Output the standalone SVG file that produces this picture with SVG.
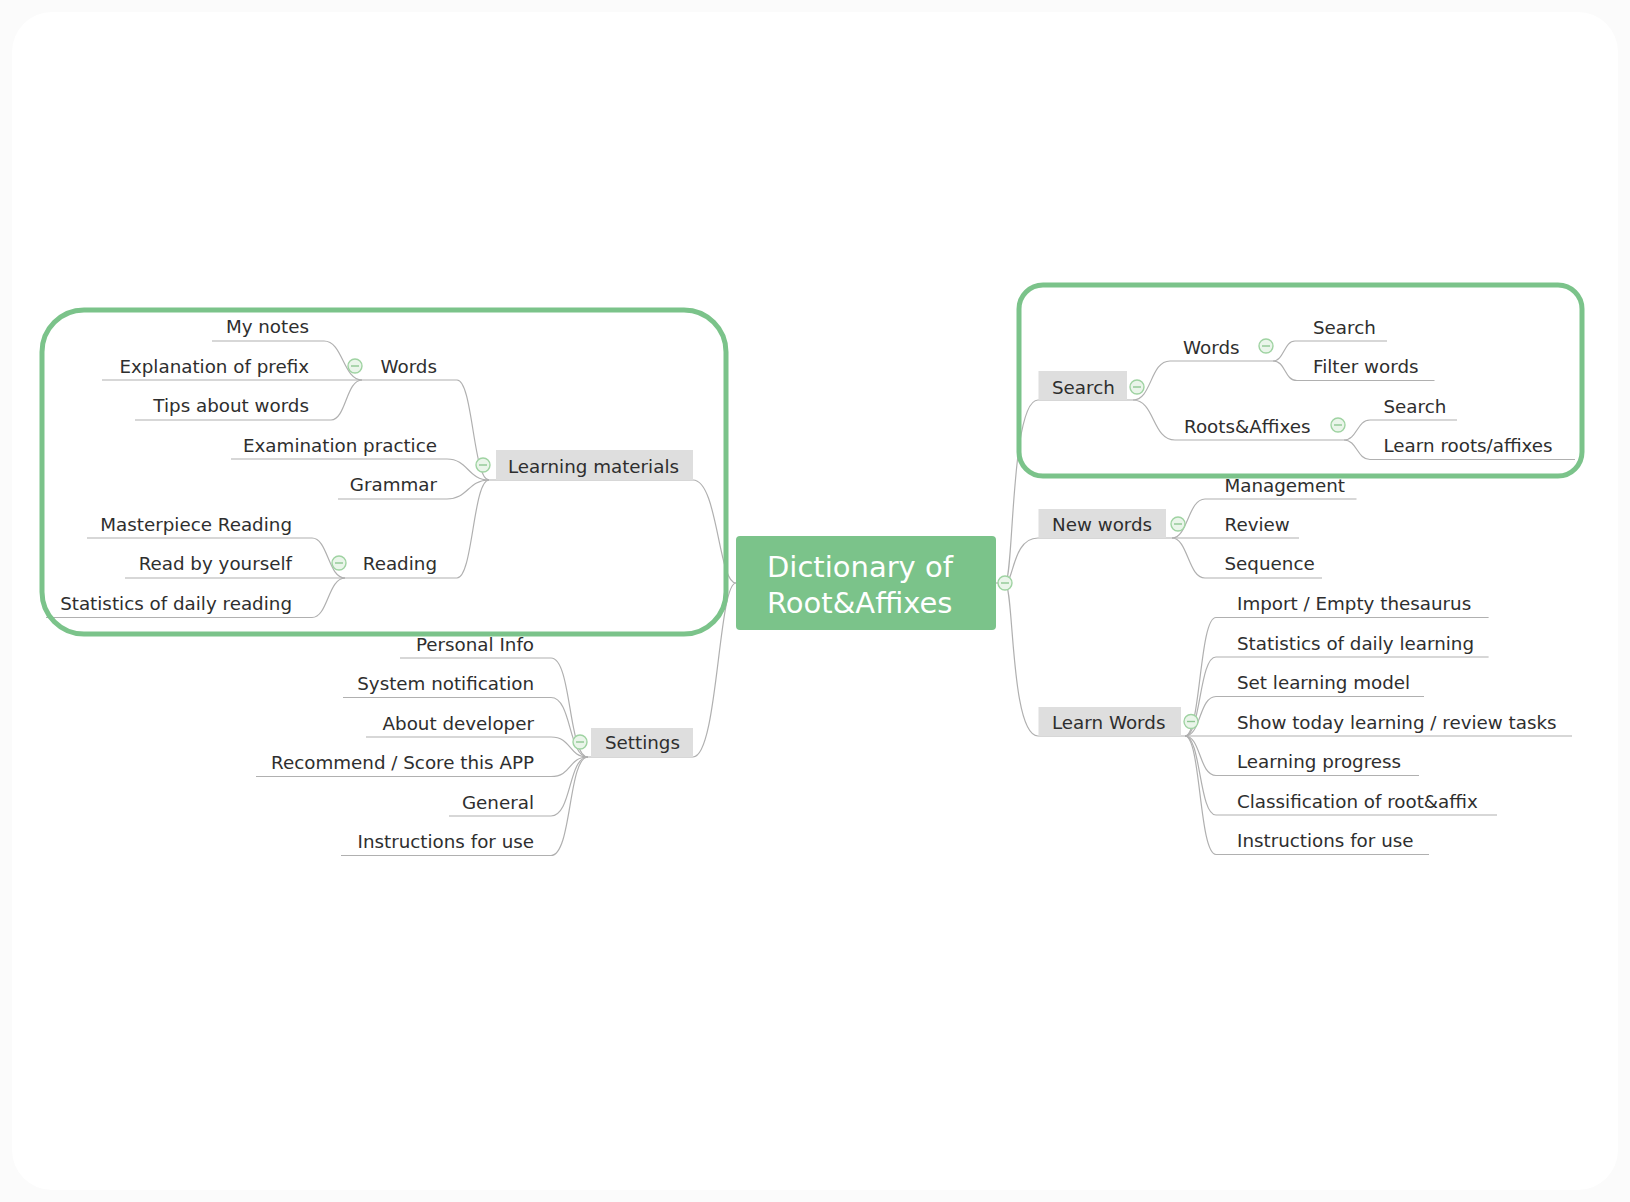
<svg xmlns="http://www.w3.org/2000/svg" width="1630" height="1202" viewBox="0 0 1630 1202">
<style>
.t{font-family:"DejaVu Sans","Liberation Sans",sans-serif;font-size:18.3px;fill:#2e2e2e}
.r{text-anchor:end}
.box{fill:#dedede}
.ln{fill:none;stroke:#b0b0b0;stroke-width:1.2}
.fr{fill:none;stroke:#7bc38a;stroke-width:5}
.cc{fill:#eaf5ea;stroke:#9fd3a2;stroke-width:1.4}
.cm{stroke:#8fc793;stroke-width:1.4}
.rt{font-family:"DejaVu Sans","Liberation Sans",sans-serif;font-size:29px;fill:#ffffff}
</style>
<defs>
<g id="col"><circle class="cc" r="7"/><line class="cm" x1="-4" y1="0" x2="4" y2="0"/></g>
</defs>
<rect width="1630" height="1202" fill="#fbfbfb"/>
<rect x="12" y="12" width="1606" height="1178" rx="40" fill="#ffffff"/>

<g id="connectors">
<path class="ln" d="M693,480 C718,480 718,583 736,583"/>
<path class="ln" d="M693,757 C718,757 718,583 736,583"/>
<path class="ln" d="M489,480 H693"/>
<path class="ln" d="M362,380 H457 C473,380 473,480 489,480"/>
<path class="ln" d="M231,459 H447 C468,459 468,480 489,480"/>
<path class="ln" d="M338,499 H447 C468,499 468,480 489,480"/>
<path class="ln" d="M345,578 H457 C473,578 473,480 489,480"/>
<path class="ln" d="M212,341 H324 C343,341 343,380 362,380"/>
<path class="ln" d="M102,380 H362"/>
<path class="ln" d="M135,420 H331 C346,420 346,380 362,380"/>
<path class="ln" d="M87,538 H312 C328,538 328,578 345,578"/>
<path class="ln" d="M125,578 H345"/>
<path class="ln" d="M46,617.5 H312 C328,617.5 328,578 345,578"/>
<path class="ln" d="M588,757 H693"/>
<path class="ln" d="M400,658 H551 C572,658 568,757 588,757"/>
<path class="ln" d="M343,697.5 H551 C572,697.5 568,757 588,757"/>
<path class="ln" d="M366,737 H551 C572,737 568,757 588,757"/>
<path class="ln" d="M256,776.5 H551 C572,776.5 568,757 588,757"/>
<path class="ln" d="M449,816 H551 C572,816 568,757 588,757"/>
<path class="ln" d="M341,855.5 H551 C572,855.5 568,757 588,757"/>
<path class="ln" d="M996,583 H1005"/>
<path class="ln" d="M1005,583 C1014,583 1010,400 1038,400 H1133"/>
<path class="ln" d="M1005,583 C1014,583 1012,538 1038,538 H1172"/>
<path class="ln" d="M1005,583 C1014,583 1010,736 1038,736 H1185"/>
<path class="ln" d="M1133,400 C1152,400 1150,361 1170,361 H1273"/>
<path class="ln" d="M1133,400 C1155,400 1152,440 1175,440 H1344"/>
<path class="ln" d="M1273,361 C1284,361 1284,341 1295,341 H1387"/>
<path class="ln" d="M1273,361 C1286,361 1284,380.5 1297,380.5 H1434.5"/>
<path class="ln" d="M1344,440 C1357,440 1357,420 1370,420 H1457"/>
<path class="ln" d="M1344,440 C1357,440 1357,459.5 1370,459.5 H1575"/>
<path class="ln" d="M1172,538 C1188,538 1188,499 1205,499 H1356.5"/>
<path class="ln" d="M1172,538 H1299"/>
<path class="ln" d="M1172,538 C1188,538 1188,578 1205,578 H1322"/>
<path class="ln" d="M1185,736 C1201,736 1199,617.5 1216,617.5 H1488.6"/>
<path class="ln" d="M1185,736 C1201,736 1199,657 1216,657 H1488.6"/>
<path class="ln" d="M1185,736 C1201,736 1199,696.5 1216,696.5 H1424"/>
<path class="ln" d="M1185,736 H1572"/>
<path class="ln" d="M1185,736 C1201,736 1199,775.5 1216,775.5 H1419"/>
<path class="ln" d="M1185,736 C1201,736 1199,815 1216,815 H1497"/>
<path class="ln" d="M1185,736 C1201,736 1199,854.5 1216,854.5 H1429"/>
</g>

<g id="root">
<rect x="736" y="536" width="260" height="94" rx="4" fill="#7bc38a"/>
<text class="rt" x="767" y="577">Dictionary of</text>
<text class="rt" x="767" y="613">Root&amp;Affixes</text>
<use href="#col" x="1005" y="583"/>
</g>

<g id="learning-materials">
<rect class="box" x="496" y="450" width="197" height="30"/>
<text class="t" x="508" y="473">Learning materials</text>
<use href="#col" x="483" y="465"/>
</g>
<g id="words-left"><text class="t r" x="437" y="373">Words</text><use href="#col" x="355" y="366"/></g>
<g id="my-notes"><text class="t r" x="309" y="333">My notes</text></g>
<g id="explanation-prefix"><text class="t r" x="309" y="373">Explanation of prefix</text></g>
<g id="tips-words"><text class="t r" x="309" y="412">Tips about words</text></g>
<g id="exam-practice"><text class="t r" x="437" y="452">Examination practice</text></g>
<g id="grammar"><text class="t r" x="437" y="491">Grammar</text></g>
<g id="reading"><text class="t r" x="437" y="570">Reading</text><use href="#col" x="339" y="563"/></g>
<g id="masterpiece"><text class="t r" x="292" y="531">Masterpiece Reading</text></g>
<g id="read-yourself"><text class="t r" x="292" y="570">Read by yourself</text></g>
<g id="stats-reading"><text class="t r" x="292" y="610">Statistics of daily reading</text></g>

<g id="settings">
<rect class="box" x="591" y="728" width="102" height="29"/>
<text class="t" x="605" y="749">Settings</text>
<use href="#col" x="580" y="742"/>
</g>
<g id="personal-info"><text class="t r" x="534" y="650.5">Personal Info</text></g>
<g id="system-notification"><text class="t r" x="534" y="690">System notification</text></g>
<g id="about-developer"><text class="t r" x="534" y="729.5">About developer</text></g>
<g id="recommend"><text class="t r" x="534" y="769">Recommend / Score this APP</text></g>
<g id="general"><text class="t r" x="534" y="808.5">General</text></g>
<g id="instructions-left"><text class="t r" x="534" y="848">Instructions for use</text></g>

<g id="search">
<rect class="box" x="1038.5" y="371" width="88.5" height="29"/>
<text class="t" x="1052" y="394">Search</text>
<use href="#col" x="1137" y="387"/>
</g>
<g id="words-right"><text class="t" x="1183" y="354">Words</text><use href="#col" x="1266" y="346"/></g>
<g id="search-words"><text class="t" x="1313" y="333.5">Search</text></g>
<g id="filter-words"><text class="t" x="1313" y="373">Filter words</text></g>
<g id="roots-affixes"><text class="t" x="1184" y="433">Roots&amp;Affixes</text><use href="#col" x="1338" y="425"/></g>
<g id="search-roots"><text class="t" x="1383.5" y="412.5">Search</text></g>
<g id="learn-roots"><text class="t" x="1383.5" y="452">Learn roots/affixes</text></g>

<g id="new-words">
<rect class="box" x="1038.5" y="509" width="127.5" height="29"/>
<text class="t" x="1052" y="531">New words</text>
<use href="#col" x="1178" y="524"/>
</g>
<g id="management"><text class="t" x="1224.5" y="491.5">Management</text></g>
<g id="review"><text class="t" x="1224.5" y="531">Review</text></g>
<g id="sequence"><text class="t" x="1224.5" y="570">Sequence</text></g>

<g id="learn-words">
<rect class="box" x="1038.5" y="707" width="142.5" height="29"/>
<text class="t" x="1052" y="728.5">Learn Words</text>
<use href="#col" x="1191" y="721.5"/>
</g>
<g id="import"><text class="t" x="1237" y="610">Import / Empty thesaurus</text></g>
<g id="stats-learning"><text class="t" x="1237" y="649.5">Statistics of daily learning</text></g>
<g id="set-model"><text class="t" x="1237" y="689">Set learning model</text></g>
<g id="show-today"><text class="t" x="1237" y="728.5">Show today learning / review tasks</text></g>
<g id="learning-progress"><text class="t" x="1237" y="768">Learning progress</text></g>
<g id="classification"><text class="t" x="1237" y="807.5">Classification of root&amp;affix</text></g>
<g id="instructions-right"><text class="t" x="1237" y="847">Instructions for use</text></g>

<g id="frames">
<rect class="fr" x="42" y="310" width="684" height="324" rx="42"/>
<rect class="fr" x="1019" y="285" width="563" height="191" rx="24"/>
</g>
</svg>
